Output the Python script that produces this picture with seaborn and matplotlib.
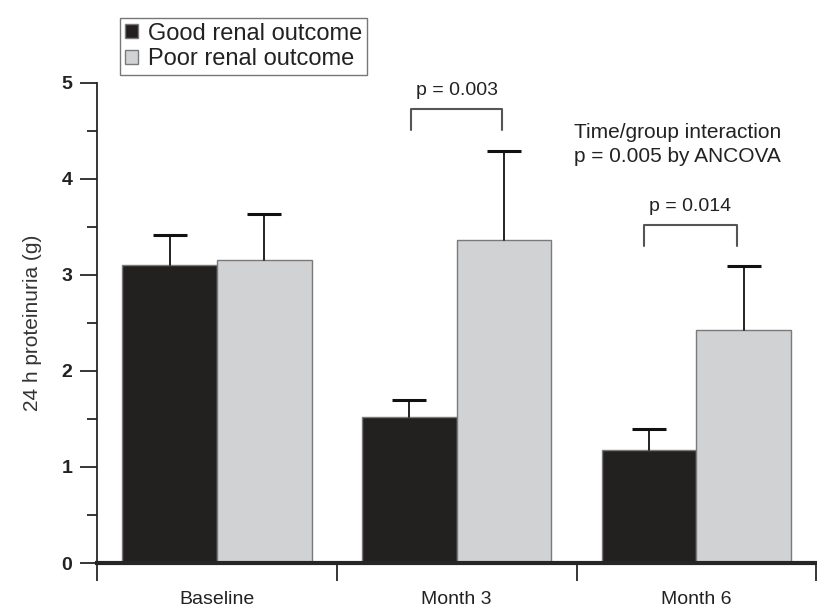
import numpy as np
import pandas as pd
import seaborn as sns
import matplotlib
matplotlib.use("Agg")
import matplotlib.pyplot as plt
from matplotlib.ticker import MultipleLocator, FixedLocator

timepoints = ["Baseline", "Month 3", "Month 6"]
groups = ["Good renal outcome", "Poor renal outcome"]
good_mean = [3.10, 1.52, 1.18]
poor_mean = [3.15, 3.36, 2.43]
good_err = [0.31, 0.18, 0.21]
poor_err = [0.48, 0.93, 0.66]

df = pd.DataFrame({
    "time": timepoints * 2,
    "group": [groups[0]] * 3 + [groups[1]] * 3,
    "value": good_mean + poor_mean,
})

sns.set_style("ticks")
plt.rcParams["font.family"] = ["Liberation Sans", "DejaVu Sans"]

fig = plt.figure(figsize=(8.17, 6.08), dpi=100)
ax = fig.add_axes([0.119, 0.074, 0.880, 0.790])

sns.barplot(data=df, x="time", y="value", hue="group", order=timepoints,
            hue_order=groups, palette=["#231f20", "#d1d2d4"], errorbar=None,
            width=0.79, edgecolor="#7a7a7a", linewidth=1.0, ax=ax, legend=False)

# error bars, upward only (stem + cap on top)
errs = good_err + poor_err
for patch, e in zip(ax.patches[:6], errs):
    xc = patch.get_x() + patch.get_width() / 2
    top = patch.get_height()
    ax.plot([xc, xc], [top, top + e], color="#111111", lw=1.3, zorder=3)
    ax.plot(xc, top + e, marker="_", ms=24, mew=2.2, color="#111111", zorder=3)

ax.set_ylim(0, 5)
ax.set_xlim(-0.5, 2.5)
ax.yaxis.set_major_locator(MultipleLocator(1))
ax.yaxis.set_minor_locator(MultipleLocator(0.5))
ax.tick_params(axis="y", which="major", length=12, width=1.3, labelsize=14, pad=6,
               labelcolor="#222222")
ax.tick_params(axis="y", which="minor", length=7, width=1.3)
for lab in ax.get_yticklabels():
    lab.set_fontweight("semibold")

# category boundaries as ticks, labels at centres
ax.xaxis.set_major_locator(FixedLocator([-0.5, 0.5, 1.5, 2.5]))
ax.xaxis.set_minor_locator(FixedLocator([0, 1, 2]))
ax.set_xticklabels([], minor=False)
ax.set_xticklabels(timepoints, minor=True)
ax.tick_params(axis="x", which="major", length=13, width=1.3, direction="out")
ax.tick_params(axis="x", which="minor", length=0, labelsize=14, pad=20,
               labelcolor="#222222")

ax.set_xlabel("")
ax.set_ylabel("24 h proteinuria (g)", fontsize=15, color="#333333", labelpad=14)
for s in ["top", "right"]:
    ax.spines[s].set_visible(False)
ax.spines["left"].set_linewidth(1.3)
ax.spines["bottom"].set_linewidth(3)
ax.spines["left"].set_bounds(0, 5)

# significance brackets
def bracket(x0, x1, y, h, text):
    ax.plot([x0, x0, x1, x1], [y - h, y, y, y - h], color="#555555", lw=1.5, clip_on=False)
    ax.text((x0 + x1) / 2, y + 0.1, text, ha="center", va="bottom", fontsize=14, color="#222222")

bracket(0.81, 1.19, 4.73, 0.22, "p = 0.003")
bracket(1.78, 2.17, 3.52, 0.22, "p = 0.014")
ax.text(1.49, 4.58, "Time/group interaction\np = 0.005 by ANCOVA", fontsize=15,
        ha="left", va="top", linespacing=1.3, color="#222222")

handles = [plt.Rectangle((0, 0), 1, 1, fc="#231f20", ec="#7a7a7a"),
           plt.Rectangle((0, 0), 1, 1, fc="#d1d2d4", ec="#7a7a7a")]
fig.legend(handles, groups, loc="upper left", bbox_to_anchor=(0.133, 0.99),
           fontsize=17, frameon=True, fancybox=False, edgecolor="#555555",
           handlelength=0.55, handleheight=0.55, handletextpad=0.4,
           borderpad=0.2, labelspacing=0.15, labelcolor="#222222")

fig.savefig("out.png", dpi=100)
